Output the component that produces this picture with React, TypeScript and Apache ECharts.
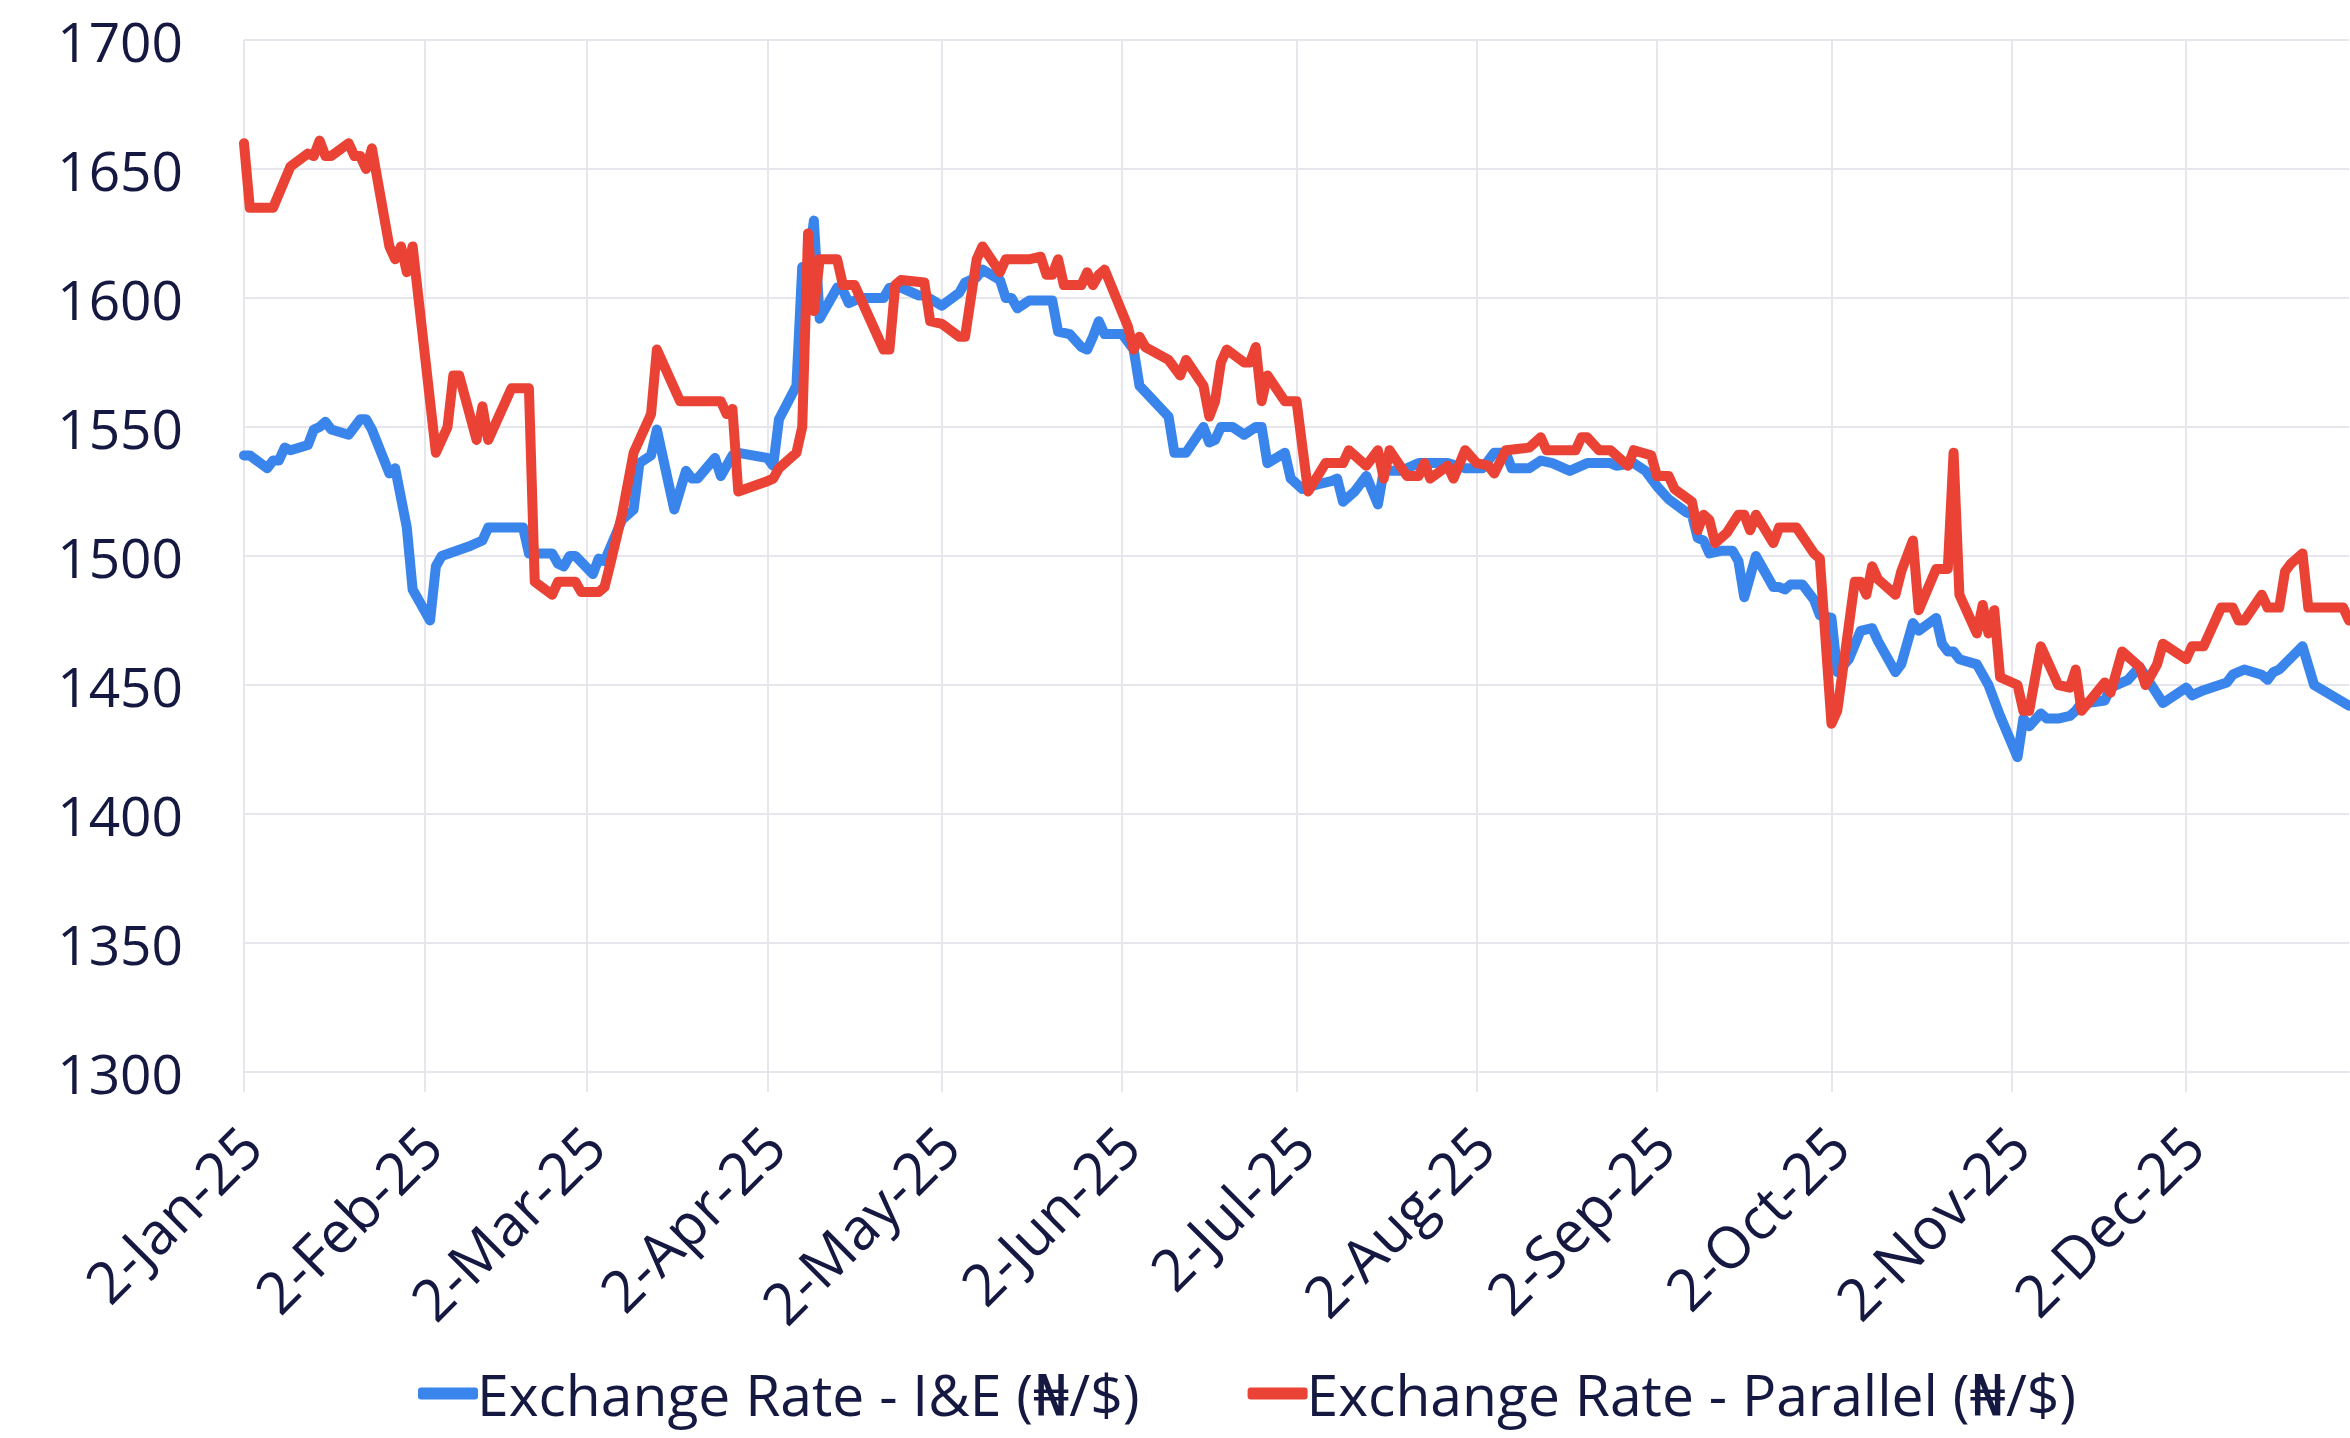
import React, { useEffect, useRef } from "react";
import * as echarts from "echarts";

// ---------- categories: every calendar day from 2-Jan-25 to 30-Dec-25 ----------
const MONTHS = ["Jan", "Feb", "Mar", "Apr", "May", "Jun", "Jul", "Aug", "Sep", "Oct", "Nov", "Dec"];
const START_UTC = Date.UTC(2025, 0, 2);
const DAY_COUNT = 363;
const categories: string[] = Array.from({ length: DAY_COUNT }, (_, i) => {
  const d = new Date(START_UTC + i * 86400000);
  return `${d.getUTCDate()}-${MONTHS[d.getUTCMonth()]}-25`;
});

// ---------- y axis ----------
const Y_MIN = 1300;
const Y_MAX = 1700;
const Y_STEP = 50;

// ---------- Exchange Rate - I&E (day offset from 2-Jan-25, rate) ----------
const ieDays = [
  0, 1, 4, 5, 6, 7, 8, 11, 12, 13, 14, 15, 18, 20, 21, 22, 25, 26, 28, 29, 32, 33, 34, 39, 41, 42, 48, 49, 53, 54,
  55, 56, 57, 60, 61, 62, 65, 67, 68, 70, 71, 74, 76, 77, 78, 81, 82, 84, 85, 90, 91, 92, 95, 96, 97, 98, 99, 102,
  103, 104, 106, 110, 111, 113, 116, 117, 120, 123, 124, 126, 127, 130, 131, 132, 133, 135, 139, 140, 142, 144,
  145, 146, 147, 148, 151, 153, 154, 159, 160, 162, 165, 166, 167, 168, 170, 172, 174, 175, 176, 179, 180, 182,
  185, 187, 188, 189, 191, 193, 195, 196, 199, 202, 204, 207, 210, 213, 215, 217, 218, 221, 223, 225, 228, 231,
  235, 236, 239, 241, 243, 245, 248, 249, 250, 251, 252, 254, 256, 257, 258, 260, 263, 264, 265, 266, 268, 270,
  271, 273, 274, 276, 278, 280, 281, 284, 285, 287, 288, 291, 292, 293, 294, 295, 298, 300, 301, 302, 305, 306,
  307, 309, 310, 312, 314, 315, 316, 317, 320, 321, 324, 326, 330, 334, 335, 337, 341, 342, 344, 347, 348, 349,
  350, 354, 356, 362,
];
const ieRates = [
  1539, 1539, 1534, 1537, 1537, 1542, 1541, 1543, 1549, 1550, 1552, 1549, 1547, 1553, 1553, 1549, 1532, 1534, 1511,
  1487, 1475, 1496, 1500, 1504, 1506, 1511, 1511, 1501, 1501, 1497, 1496, 1500, 1500, 1493, 1499, 1498, 1514, 1518,
  1536, 1539, 1549, 1518, 1533, 1530, 1530, 1538, 1531, 1539, 1540, 1538, 1535, 1553, 1566, 1612, 1612, 1630, 1592,
  1604, 1603, 1598, 1600, 1600, 1604, 1604, 1601, 1601, 1597, 1602, 1606, 1608, 1611, 1607, 1600, 1600, 1596, 1599,
  1599, 1587, 1586, 1581, 1580, 1585, 1591, 1586, 1586, 1580, 1566, 1554, 1540, 1540, 1550, 1544, 1545, 1550, 1550,
  1547, 1550, 1550, 1536, 1540, 1530, 1526, 1528, 1529, 1530, 1521, 1525, 1531, 1520, 1533, 1533, 1536, 1536, 1536,
  1534, 1534, 1540, 1540, 1534, 1534, 1537, 1536, 1533, 1536, 1536, 1535, 1536, 1533, 1527, 1522, 1517, 1516, 1507,
  1506, 1501, 1502, 1502, 1498, 1484, 1500, 1488, 1488, 1487, 1489, 1489, 1483, 1477, 1476, 1455, 1460, 1471, 1472,
  1467, 1455, 1458, 1474, 1471, 1476, 1466, 1463, 1463, 1460, 1458, 1450, 1444, 1438, 1422, 1437, 1434, 1439, 1437,
  1437, 1438, 1440, 1443, 1443, 1444, 1449, 1452, 1457, 1443, 1449, 1446, 1448, 1451, 1454, 1456, 1454, 1452, 1455,
  1456, 1465, 1450, 1442,
];

// ---------- Exchange Rate - Parallel (day offset from 2-Jan-25, rate) ----------
const parallelDays = [
  0, 1, 5, 8, 11, 12, 13, 14, 15, 18, 19, 20, 21, 22, 25, 26, 27, 28, 29, 33, 35, 36, 37, 40, 41, 42, 46, 49, 50, 53,
  54, 57, 58, 61, 62, 63, 65, 67, 70, 71, 75, 82, 83, 84, 85, 90, 91, 92, 95, 96, 97, 98, 99, 102, 103, 105, 110,
  111, 112, 113, 117, 118, 120, 123, 124, 126, 127, 130, 131, 135, 137, 138, 139, 140, 141, 144, 145, 146, 147, 148,
  152, 153, 154, 155, 159, 161, 162, 165, 166, 167, 168, 169, 172, 173, 174, 175, 176, 179, 181, 183, 186, 189, 190,
  193, 195, 196, 197, 200, 202, 203, 204, 207, 208, 210, 212, 214, 215, 217, 221, 223, 224, 229, 230, 231, 233, 235,
  238, 239, 242, 243, 245, 246, 249, 250, 251, 252, 253, 255, 257, 258, 259, 260, 263, 264, 267, 270, 271, 273, 274,
  277, 278, 279, 280, 281, 284, 285, 287, 288, 291, 293, 294, 295, 298, 299, 300, 301, 302, 305, 306, 307, 309, 312,
  314, 315, 316, 320, 321, 323, 326, 327, 328, 329, 330, 334, 335, 337, 340, 342, 343, 344, 347, 348, 350, 351, 352,
  354, 355, 361, 362,
];
const parallelRates = [
  1660, 1635, 1635, 1651, 1656, 1655, 1661, 1655, 1655, 1660, 1655, 1655, 1650, 1658, 1620, 1615, 1620, 1610, 1620,
  1540, 1550, 1570, 1570, 1545, 1558, 1545, 1565, 1565, 1490, 1485, 1490, 1490, 1486, 1486, 1488, 1497, 1516, 1540,
  1555, 1580, 1560, 1560, 1555, 1557, 1525, 1529, 1530, 1534, 1540, 1550, 1625, 1595, 1615, 1615, 1605, 1605, 1580,
  1580, 1605, 1607, 1606, 1591, 1590, 1585, 1585, 1615, 1620, 1610, 1615, 1615, 1616, 1609, 1609, 1615, 1605, 1605,
  1610, 1605, 1609, 1611, 1589, 1580, 1585, 1581, 1576, 1570, 1576, 1566, 1554, 1560, 1575, 1580, 1575, 1575, 1581,
  1560, 1570, 1560, 1560, 1525, 1536, 1536, 1541, 1535, 1541, 1530, 1541, 1531, 1531, 1536, 1530, 1535, 1530, 1541,
  1536, 1535, 1532, 1541, 1542, 1546, 1541, 1541, 1546, 1546, 1541, 1541, 1535, 1541, 1539, 1531, 1531, 1526, 1521,
  1510, 1516, 1514, 1505, 1509, 1516, 1516, 1510, 1516, 1505, 1511, 1511, 1501, 1499, 1435, 1440, 1490, 1490, 1485,
  1496, 1491, 1485, 1494, 1506, 1479, 1495, 1495, 1540, 1485, 1470, 1481, 1470, 1479, 1453, 1450, 1440, 1440, 1465,
  1450, 1449, 1456, 1440, 1451, 1447, 1463, 1457, 1450, 1454, 1458, 1466, 1460, 1465, 1465, 1480, 1480, 1475, 1475,
  1485, 1480, 1480, 1494, 1497, 1501, 1480, 1480, 1475,
];

const SERIES_NAMES = ["Exchange Rate - I&E (₦/$)", "Exchange Rate - Parallel (₦/$)"];

const FONT = "'Open Sans', 'DejaVu Sans', sans-serif";
const TEXT = "#151840";
const GRID = "#e6e6ec";
const BLUE = "#3a85eb";
const RED = "#ea4335";

const isMonthTick = (_index: number, value: string) => value.startsWith("2-");

export default function App() {
  const ref = useRef<HTMLDivElement>(null);

  useEffect(() => {
    if (!ref.current) return;
    const chart = echarts.init(ref.current, undefined, { renderer: "svg" });
    const toPairs = (days: number[], rates: number[]) => days.map((d, i) => [categories[d], rates[i]]);

    chart.setOption({
      animation: false,
      textStyle: { fontFamily: FONT },
      grid: { left: 244, right: 1, top: 40, bottom: 366, containLabel: false },
      legend: {
        left: 413,
        top: 1360,
        itemWidth: 60,
        itemHeight: 12,
        itemGap: 108,
        icon: "roundRect",
        textStyle: { fontSize: 57, color: TEXT, fontFamily: FONT, padding: [0, 0, 0, -6] },
        data: SERIES_NAMES,
      },
      xAxis: {
        type: "category",
        data: categories,
        boundaryGap: false,
        axisLine: { show: true, lineStyle: { color: GRID, width: 2 } },
        axisTick: { show: true, interval: isMonthTick, length: 20, lineStyle: { color: GRID, width: 2 } },
        axisLabel: {
          interval: isMonthTick,
          rotate: 45,
          margin: 70,
          padding: [0, -9, 0, 0],
          fontSize: 58,
          color: TEXT,
          fontFamily: FONT,
        },
        splitLine: { show: true, interval: isMonthTick, lineStyle: { color: GRID, width: 2 } },
      },
      yAxis: {
        type: "value",
        min: Y_MIN,
        max: Y_MAX,
        interval: Y_STEP,
        axisLine: { show: false },
        axisTick: { show: false },
        axisLabel: {
          margin: 61,
          fontSize: 55,
          color: TEXT,
          fontFamily: FONT,
          formatter: (v: number) => String(v),
        },
        splitLine: { show: true, lineStyle: { color: GRID, width: 2 } },
      },
      series: [
        {
          name: SERIES_NAMES[0],
          type: "line",
          data: toPairs(ieDays, ieRates),
          symbol: "none",
          color: BLUE,
          lineStyle: { width: 10, color: BLUE, cap: "round", join: "round" },
        },
        {
          name: SERIES_NAMES[1],
          type: "line",
          data: toPairs(parallelDays, parallelRates),
          symbol: "none",
          color: RED,
          lineStyle: { width: 10, color: RED, cap: "round", join: "round" },
        },
      ],
    });
    return () => chart.dispose();
  }, []);

  return (
    <div
      ref={ref}
      style={{ position: "fixed", left: 0, top: 0, width: 2350, height: 1438, background: "#ffffff" }}
    />
  );
}
